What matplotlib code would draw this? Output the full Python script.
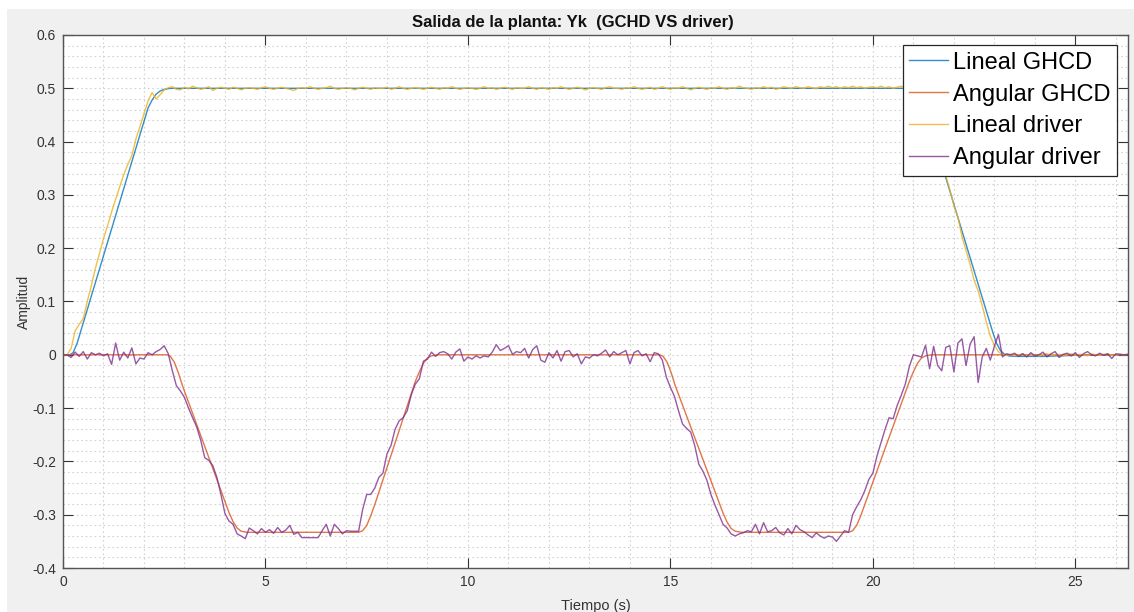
import matplotlib.pyplot as plt
import numpy as np
from matplotlib.patches import Rectangle
from matplotlib.ticker import MultipleLocator

# Colores por defecto de MATLAB
AZUL = (0.0, 0.447, 0.741)
NARANJA = (0.85, 0.325, 0.098)
AMARILLO = (0.929, 0.694, 0.125)
MORADO = (0.494, 0.184, 0.556)

# Salida lineal con GHCD (tramos suaves)
t_lin_ghcd = [0, 0.17, 0.25, 0.35, 2.1, 2.2, 2.3, 2.4, 2.5, 2.65,
              21.05, 21.15, 21.25, 22.95, 23.05, 23.15, 23.25, 23.35, 23.5, 24.2, 25.0, 26.3]
lin_ghcd = [0, 0, 0.004, 0.022, 0.463, 0.478, 0.489, 0.495, 0.498, 0.5,
            0.5, 0.497, 0.47, 0.045, 0.022, 0.008, 0.001, -0.002, -0.003, -0.003, -0.001, 0]

# Salida angular con GHCD
t_ang_ghcd = [0, 2.58, 2.65, 2.75, 2.85, 2.95, 4.1, 4.2, 4.3, 4.4, 4.55,
              7.30, 7.40, 7.50, 7.60, 7.70, 8.70, 8.80, 8.90, 9.00, 9.10, 9.25,
              14.74, 14.82, 14.92, 15.02, 15.12, 16.30, 16.40, 16.50, 16.60, 16.75,
              19.40, 19.50, 19.60, 19.70, 19.80, 20.90, 21.00, 21.10, 21.20, 21.30, 21.45, 26.3]
ang_ghcd = [0, 0, -0.003, -0.014, -0.034, -0.058, -0.296, -0.313, -0.325, -0.331, -0.333,
            -0.333, -0.330, -0.320, -0.302, -0.281, -0.05, -0.032, -0.016, -0.006, -0.002, 0,
            0, -0.003, -0.014, -0.034, -0.058, -0.297, -0.314, -0.326, -0.331, -0.333,
            -0.333, -0.330, -0.320, -0.302, -0.281, -0.05, -0.032, -0.016, -0.006, -0.002, 0, 0]

# Salidas medidas con el driver, muestreadas cada 0.1 s (una fila = 1 s)
lin_driver = [
    0.0, 0.0, 0.012, 0.045, 0.057, 0.068, 0.1, 0.13, 0.162, 0.19,              # 0
    0.218, 0.242, 0.268, 0.292, 0.315, 0.338, 0.357, 0.374, 0.405, 0.428,       # 1
    0.452, 0.476, 0.492, 0.48, 0.488, 0.497, 0.501, 0.503, 0.498, 0.497,       # 2
    0.502, 0.499, 0.504, 0.501, 0.498, 0.500, 0.503, 0.496, 0.500, 0.502,      # 3
    0.500, 0.498, 0.502, 0.500, 0.497, 0.500, 0.501, 0.500, 0.498, 0.501,      # 4
    0.503, 0.500, 0.498, 0.500, 0.502, 0.500, 0.498, 0.496, 0.500, 0.501,      # 5
    0.500, 0.503, 0.500, 0.498, 0.500, 0.501, 0.504, 0.500, 0.498, 0.500,      # 6
    0.501, 0.500, 0.497, 0.500, 0.502, 0.500, 0.498, 0.501, 0.500, 0.500,      # 7
    0.502, 0.498, 0.500, 0.503, 0.500, 0.498, 0.500, 0.501, 0.500, 0.498,      # 8
    0.500, 0.502, 0.500, 0.498, 0.501, 0.500, 0.503, 0.500, 0.498, 0.500,      # 9
    0.501, 0.500, 0.498, 0.500, 0.503, 0.500, 0.501, 0.498, 0.500, 0.502,      # 10
    0.500, 0.498, 0.501, 0.500, 0.500, 0.503, 0.500, 0.498, 0.501, 0.500,      # 11
    0.498, 0.501, 0.500, 0.503, 0.500, 0.498, 0.500, 0.502, 0.500, 0.497,      # 12
    0.500, 0.501, 0.500, 0.498, 0.501, 0.503, 0.500, 0.500, 0.498, 0.501,      # 13
    0.500, 0.503, 0.500, 0.498, 0.500, 0.502, 0.498, 0.500, 0.503, 0.500,      # 14
    0.498, 0.501, 0.500, 0.503, 0.500, 0.497, 0.500, 0.502, 0.500, 0.498,      # 15
    0.501, 0.500, 0.503, 0.500, 0.498, 0.501, 0.500, 0.504, 0.501, 0.500,      # 16
    0.498, 0.501, 0.500, 0.503, 0.500, 0.502, 0.498, 0.500, 0.503, 0.501,      # 17
    0.500, 0.503, 0.501, 0.500, 0.503, 0.501, 0.499, 0.503, 0.501, 0.504,      # 18
    0.501, 0.503, 0.500, 0.503, 0.501, 0.504, 0.501, 0.503, 0.500, 0.502,      # 19
    0.503, 0.501, 0.504, 0.501, 0.503, 0.500, 0.502, 0.504, 0.501, 0.502,      # 20
    0.501, 0.5, 0.485, 0.46, 0.435, 0.41, 0.385, 0.36, 0.336, 0.31,            # 21
    0.28, 0.258, 0.222, 0.196, 0.17, 0.14, 0.12, 0.092, 0.062, 0.035,          # 22
    0.018, 0.006, 0.0, -0.001, 0.001, -0.002, 0.0, 0.002, -0.002, 0.001,       # 23
    0.0, -0.002, 0.001, 0.002, -0.001, 0.0, 0.001, -0.002, 0.0, 0.002,         # 24
    -0.001, 0.001, 0.0, -0.002, 0.002, 0.0, -0.001, 0.001, 0.002, -0.001,      # 25
    0.0, 0.001, 0.0, 0.001,                                                     # 26
]

ang_driver = [
    0.0, 0.0, -0.005, 0.005, -0.003, 0.006, -0.008, 0.004, 0.0, 0.003,             # 0
    -0.002, 0.002, -0.018, 0.022, -0.01, 0.005, -0.006, 0.013, -0.017, -0.006,     # 1
    -0.008, 0.004, 0.0, 0.006, 0.01, 0.017, 0.002, -0.03, -0.058, -0.068,          # 2
    -0.08, -0.1, -0.118, -0.135, -0.16, -0.193, -0.198, -0.208, -0.23, -0.262,     # 3
    -0.298, -0.312, -0.318, -0.336, -0.34, -0.345, -0.325, -0.33, -0.336, -0.326,  # 4
    -0.333, -0.328, -0.335, -0.324, -0.333, -0.329, -0.32, -0.337, -0.333, -0.343, # 5
    -0.343, -0.343, -0.343, -0.343, -0.33, -0.318, -0.34, -0.318, -0.326, -0.336,  # 6
    -0.33, -0.331, -0.331, -0.331, -0.29, -0.262, -0.262, -0.25, -0.23, -0.222,    # 7
    -0.186, -0.17, -0.14, -0.124, -0.118, -0.105, -0.075, -0.055, -0.045, -0.012,  # 8
    -0.008, 0.005, -0.003, 0.004, 0.006, 0.002, -0.008, 0.005, 0.011, -0.012,      # 9
    -0.004, -0.008, -0.002, -0.006, -0.002, -0.004, 0.005, 0.019, 0.008, 0.012,    # 10
    0.017, 0.001, 0.006, 0.004, 0.012, -0.006, 0.01, 0.017, -0.01, -0.014,         # 11
    0.004, -0.006, 0.008, -0.012, 0.006, 0.008, -0.004, 0.002, -0.017, -0.004,     # 12
    -0.006, 0.0, -0.002, 0.003, 0.009, -0.004, 0.006, 0.0, 0.004, 0.008,          # 13
    -0.017, 0.004, 0.008, -0.002, 0.002, -0.013, 0.004, 0.002, -0.01, -0.042,      # 14
    -0.061, -0.078, -0.105, -0.13, -0.138, -0.145, -0.17, -0.205, -0.218, -0.235,  # 15
    -0.262, -0.282, -0.3, -0.318, -0.325, -0.336, -0.34, -0.336, -0.334, -0.33,    # 16
    -0.332, -0.318, -0.336, -0.315, -0.332, -0.33, -0.324, -0.334, -0.338, -0.326, # 17
    -0.336, -0.32, -0.328, -0.332, -0.338, -0.343, -0.334, -0.34, -0.344, -0.34,   # 18
    -0.342, -0.35, -0.34, -0.33, -0.333, -0.3, -0.285, -0.272, -0.255, -0.234,     # 19
    -0.222, -0.19, -0.165, -0.14, -0.118, -0.12, -0.095, -0.076, -0.055, -0.022,   # 20
    0.0, -0.002, -0.004, 0.018, -0.026, 0.016, -0.02, -0.03, 0.014, 0.017,         # 21
    -0.032, 0.022, 0.03, -0.02, 0.02, 0.034, -0.052, -0.004, 0.012, -0.01,         # 22
    0.016, 0.038, -0.004, 0.002, 0.0, 0.003, -0.003, 0.002, -0.004, 0.004,         # 23
    -0.002, 0.0, 0.005, -0.004, 0.002, 0.006, -0.005, 0.001, 0.003, -0.002,        # 24
    0.004, -0.005, 0.002, 0.006, 0.0, -0.002, 0.003, -0.001, 0.002, -0.007,        # 25
    0.002, 0.001, 0.0, 0.001,                                                       # 26
]

TS = 0.1  # periodo de muestreo del driver
t_driver = np.arange(len(ang_driver)) * TS

plt.rcParams['font.family'] = ['Liberation Sans', 'DejaVu Sans']

fig = plt.figure(figsize=(11.34, 6.12), dpi=100, facecolor='white')
# fondo gris de la ventana de figura
fig.patches.append(Rectangle((7 / 1134, 0), 1, 1 - 9 / 612, transform=fig.transFigure,
                             facecolor='#f0f0f0', edgecolor='none', zorder=-10))

ax = fig.add_axes([63 / 1134, 1 - 568 / 612, 1065 / 1134, 533 / 612])
ax.set_facecolor('white')

ax.plot(t_lin_ghcd, lin_ghcd, color=AZUL, lw=1.0, alpha=0.8, label='Lineal GHCD')
ax.plot(t_ang_ghcd, ang_ghcd, color=NARANJA, lw=1.0, alpha=0.8, label='Angular GHCD')
ax.plot(t_driver, lin_driver, color=AMARILLO, lw=1.0, alpha=0.8, label='Lineal driver')
ax.plot(t_driver, ang_driver, color=MORADO, lw=1.0, alpha=0.8, label='Angular driver')

ax.set_xlim(0, 26.3)
ax.set_ylim(-0.4, 0.6)
ax.xaxis.set_major_locator(MultipleLocator(5))
ax.xaxis.set_minor_locator(MultipleLocator(1))
ax.yaxis.set_major_locator(MultipleLocator(0.1))
ax.yaxis.set_minor_locator(MultipleLocator(0.02))
ax.set_yticklabels([f'{v:g}' for v in np.round(ax.get_yticks(), 1)])

ax.grid(True, which='both', color='#d2d2d2', linestyle=(0, (1.5, 2.5)), linewidth=0.8)
ax.set_axisbelow(True)

ax.tick_params(which='major', direction='in', length=7, width=0.8, color='#333333',
               top=True, right=True, labelsize=10, labelcolor='#333333', pad=5)
ax.tick_params(which='minor', length=0, top=True, right=True)
for s in ax.spines.values():
    s.set_color('#555555')
    s.set_linewidth(1.0)

ax.set_title('Salida de la planta: Yk  (GCHD VS driver)', fontsize=12, fontweight='bold',
             color='#111111', pad=6, x=0.479)
ax.set_xlabel('Tiempo (s)', fontsize=10.5, color='#333333', labelpad=7)
ax.set_ylabel('Amplitud', fontsize=10, color='#333333', labelpad=1)

leg = ax.legend(loc='upper right', bbox_to_anchor=(1117 / 1134, 1 - 45 / 612),
                bbox_transform=fig.transFigure, borderaxespad=0, fontsize=17,
                fancybox=False, framealpha=1, edgecolor='#262626',
                handlelength=1.65, handletextpad=0.2, labelspacing=0.42,
                borderpad=0.28)
leg.get_frame().set_linewidth(0.9)
for line in leg.get_lines():
    line.set_alpha(0.8)

fig.savefig('out.png', dpi=100)
